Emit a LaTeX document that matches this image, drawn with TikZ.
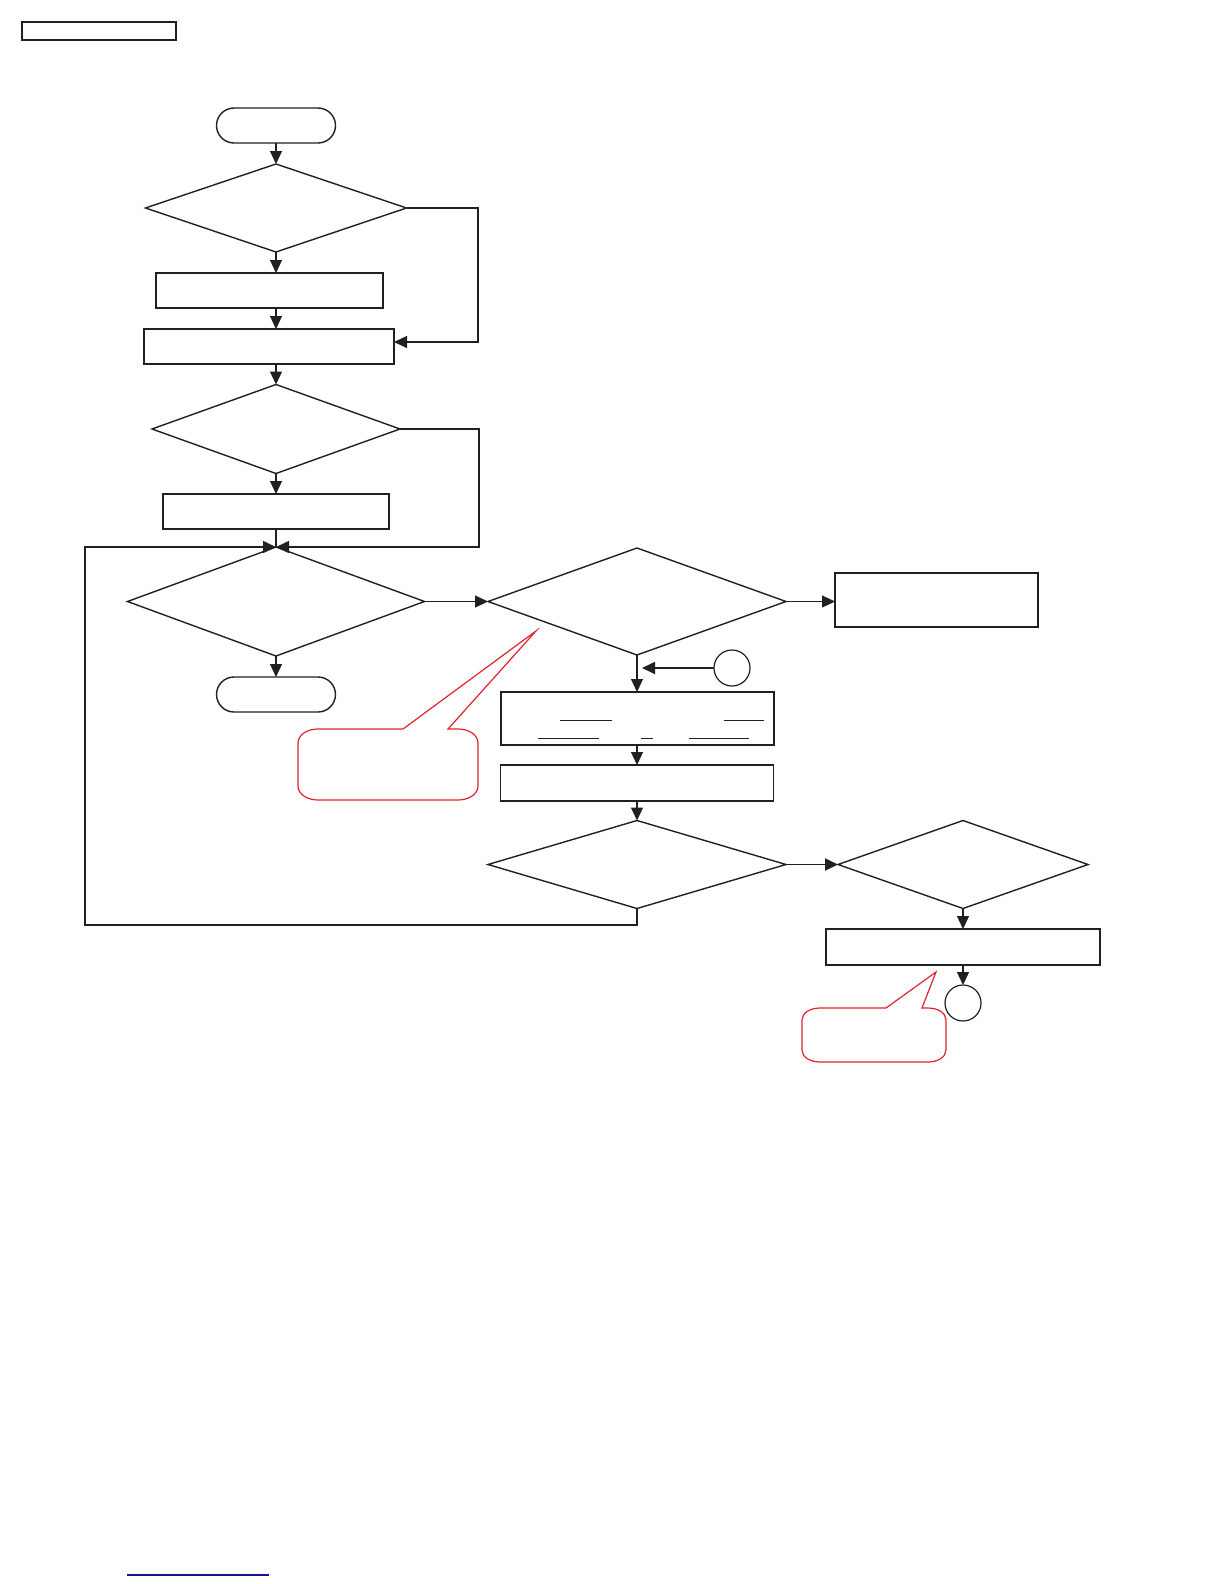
\documentclass[tikz,border=0pt]{standalone}
\usetikzlibrary{shapes.geometric,arrows.meta}
\definecolor{ink}{RGB}{35,31,32}
\definecolor{callred}{RGB}{225,35,45}
\definecolor{linkblue}{RGB}{20,20,140}
\begin{document}
\begin{tikzpicture}[x=0.5pt,y=-0.5pt,
  box/.style={draw=ink, line width=0.7pt, rectangle, inner sep=0pt, outer sep=0pt},
  thickbox/.style={box, line width=1pt},
  dia/.style={draw=ink, line width=0.7pt, diamond, inner sep=0pt, outer sep=0pt},
  term/.style={draw=ink, line width=0.7pt, rectangle, rounded corners=8.75pt, inner sep=0pt, outer sep=0pt, minimum width=59.5pt, minimum height=17.5pt},
  conn/.style={draw=ink, line width=0.6pt, circle, inner sep=0pt, outer sep=0pt, minimum size=18pt},
  arr/.style={draw=ink, line width=0.6pt, -{Triangle[length=6.5pt,width=6pt]}},
  ln/.style={draw=ink, line width=0.6pt},
  uline/.style={draw=ink, line width=0.5pt},
  callout/.style={draw=callred, line width=0.6pt, line join=miter}]
\useasboundingbox (0,0) rectangle (1224,1584);

% header box
\node[box, line width=0.8pt, minimum width=77pt, minimum height=9pt] (hdr) at (99,31) {};

% left column
\node[term] (start) at (276,125.5) {};
\node[dia, minimum width=130.5pt, minimum height=44pt] (d1) at (276,208) {};
\node[box, minimum width=113.5pt, minimum height=17.5pt] (b1) at (269.5,290.5) {};
\node[thickbox, minimum width=125pt, minimum height=17.5pt] (b2) at (269,346.5) {};
\node[dia, minimum width=124pt, minimum height=44.5pt] (d2) at (276,429) {};
\node[box, minimum width=113pt, minimum height=17.5pt] (b3) at (276,511.5) {};
\node[dia, minimum width=148.5pt, minimum height=54.5pt] (d3) at (276,601.5) {};
\node[term] (end) at (276,694.5) {};

% middle column
\node[dia, minimum width=149pt, minimum height=53.5pt] (d4) at (637,601.5) {};
\node[thickbox, minimum width=101.5pt, minimum height=27pt] (b7) at (936.5,600) {};
\node[conn] (c1) at (732,668) {};
\node[thickbox, minimum width=136.5pt, minimum height=26.5pt] (b4) at (637,718.5) {};
\node[box, minimum width=136.5pt, minimum height=18pt] (b5) at (637,783) {};
\node[dia, minimum width=149pt, minimum height=44pt] (d5) at (637,864.5) {};
\node[dia, minimum width=125pt, minimum height=44pt] (d6) at (963,864.5) {};
\node[box, minimum width=137pt, minimum height=18pt] (b6) at (963,947) {};
\node[conn] (c2) at (963,1003) {};

% helper coordinates
\coordinate (k1) at (478,342);
\coordinate (k2) at (479,547);
\coordinate (j0) at (637,925);
\coordinate (j1) at (85,547);
\coordinate (t1) at (642,668);

% connectors
\draw[arr] (start) -- (d1);
\draw[arr] (d1.south) -- (d1.south |- b1.north);
\draw[arr] (d1.south |- b1.south) -- (d1.south |- b2.north);
\draw[arr] (d1.east) -| (k1) -- (b2.east |- k1);
\draw[arr] (d1.south |- b2.south) -- (d2.north);
\draw[arr] (d2.south) -- (d2.south |- b3.north);
\draw[ln] (d2.south |- b3.south) -- (d3.north);
\draw[arr, line width=0.8pt] (d2.east) -| (k2) -- (d3.north);
\draw[arr, line width=0.8pt] (d5.south) -- (j0) -| (j1) -- (d3.north);
\draw[arr] (d3.south) -- (end.north);
\draw[arr] (d3.east) -- (d4.west);
\draw[arr] (d4.east) -- (d4.east -| b7.west);
\draw[arr] (d4.south) -- (b4.north);
\draw[arr, line width=0.9pt] (c1.west) -- (t1);
\draw[arr] (b4.south) -- (b5.north);
\draw[arr] (b5.south) -- (d5.north);
\draw[arr, line width=0.9pt] (d5.east) -- (d6.west);
\draw[arr] (d6.south) -- (b6.north);
\draw[arr] (b6.south) -- (c2.north);

% underlines inside b4
\draw[uline] (560,720) -- (612,720);
\draw[uline] (724,720) -- (764,720);
\draw[uline] (538,738) -- (599,738);
\draw[uline] (641,738) -- (653,738);
\draw[uline] (689,738) -- (749,738);

% callouts
\draw[callout] (403,729) -- (536,631) -- (448,729) -- (458,729)
  .. controls (469,729) and (478,735) .. (478,743)
  -- (478,786)
  .. controls (478,794) and (469,800) .. (458,800)
  -- (318,800)
  .. controls (307,800) and (298,794) .. (298,786)
  -- (298,743)
  .. controls (298,735) and (307,729) .. (318,729)
  -- cycle;
\draw[callout] (886,1008) -- (936,972) -- (922,1008) -- (928,1008)
  .. controls (938,1008) and (946,1013) .. (946,1020)
  -- (946,1050)
  .. controls (946,1057) and (938,1062) .. (928,1062)
  -- (820,1062)
  .. controls (810,1062) and (802,1057) .. (802,1050)
  -- (802,1020)
  .. controls (802,1013) and (810,1008) .. (820,1008)
  -- cycle;

% link underline
\draw[linkblue, line width=0.6pt] (127,1575) -- (269,1575);
\end{tikzpicture}
\end{document}
